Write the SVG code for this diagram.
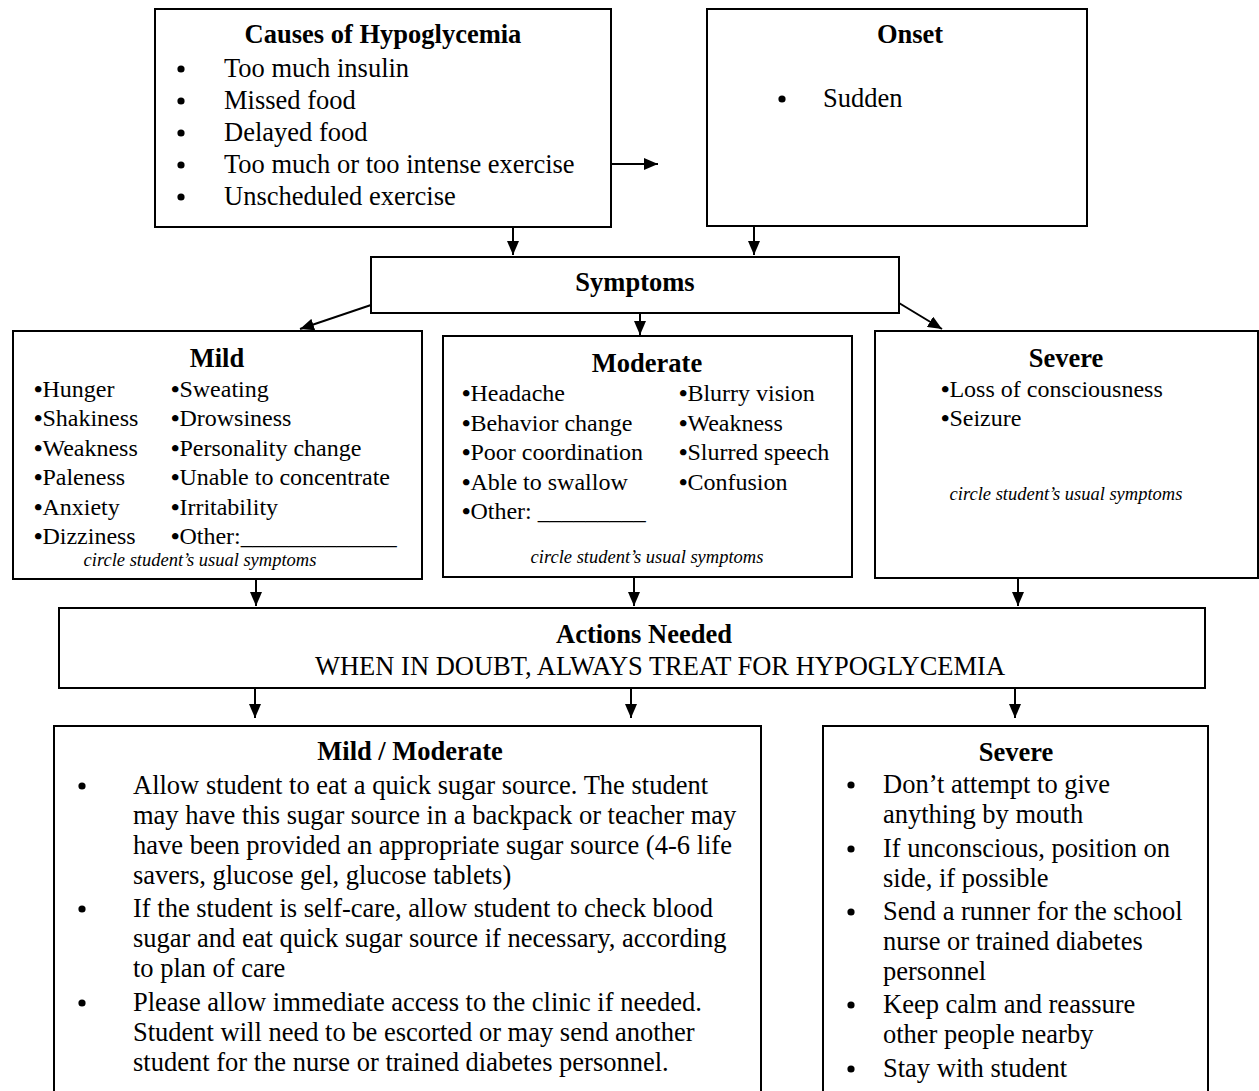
<svg xmlns="http://www.w3.org/2000/svg" width="1259" height="1091" viewBox="0 0 1259 1091">
<style>
.box{fill:#fff;stroke:#000;stroke-width:2}
.t{font-family:"Liberation Serif","Times New Roman",serif;fill:#000}
.big{font-size:26.5px}
.sm{font-size:24px}
.b{font-weight:bold}
.it{font-style:italic;font-size:18.5px}
.mid{text-anchor:middle}
.dot{fill:#000}
.bl{font-weight:bold}
.c{stroke:#000;stroke-width:2;fill:none}
</style>
<defs>
<marker id="ah" markerUnits="userSpaceOnUse" markerWidth="14" markerHeight="12" refX="14" refY="6" orient="auto">
<path d="M0,0 L14,6 L0,12 z" fill="#000"/>
</marker>
</defs>
<rect width="1259" height="1091" fill="#fff"/>

<g id="connectors">
<line class="c" x1="611" y1="164" x2="658" y2="164" marker-end="url(#ah)"/>
<line class="c" x1="513" y1="228" x2="513" y2="255" marker-end="url(#ah)"/>
<line class="c" x1="754" y1="227" x2="754" y2="255" marker-end="url(#ah)"/>
<line class="c" x1="371" y1="305" x2="300" y2="329" marker-end="url(#ah)"/>
<line class="c" x1="640" y1="313" x2="640" y2="335" marker-end="url(#ah)"/>
<line class="c" x1="899" y1="303" x2="942" y2="329" marker-end="url(#ah)"/>
<line class="c" x1="256" y1="580" x2="256" y2="606" marker-end="url(#ah)"/>
<line class="c" x1="634" y1="578" x2="634" y2="606" marker-end="url(#ah)"/>
<line class="c" x1="1018" y1="579" x2="1018" y2="606" marker-end="url(#ah)"/>
<line class="c" x1="255" y1="689" x2="255" y2="718" marker-end="url(#ah)"/>
<line class="c" x1="631" y1="689" x2="631" y2="718" marker-end="url(#ah)"/>
<line class="c" x1="1015" y1="689" x2="1015" y2="718" marker-end="url(#ah)"/>
</g>

<g id="causes">
<rect class="box" x="155" y="9" width="456" height="218"/>
<text class="t big b mid" x="383" y="43">Causes of Hypoglycemia</text>
<g class="dot">
<circle cx="181" cy="69" r="3.6"/><circle cx="181" cy="101" r="3.6"/><circle cx="181" cy="133" r="3.6"/><circle cx="181" cy="165" r="3.6"/><circle cx="181" cy="197" r="3.6"/>
</g>
<g class="t big">
<text x="224" y="77">Too much insulin</text>
<text x="224" y="109">Missed food</text>
<text x="224" y="141">Delayed food</text>
<text x="224" y="173">Too much or too intense exercise</text>
<text x="224" y="205">Unscheduled exercise</text>
</g>
</g>

<g id="onset">
<rect class="box" x="707" y="9" width="380" height="217"/>
<text class="t big b mid" x="910" y="43">Onset</text>
<circle class="dot" cx="782" cy="99" r="3.6"/>
<text class="t big" x="823" y="107">Sudden</text>
</g>

<g id="symptoms">
<rect class="box" x="371" y="257" width="528" height="56"/>
<text class="t big b mid" x="635" y="291">Symptoms</text>
</g>

<g id="mild">
<rect class="box" x="13" y="331" width="409" height="248"/>
<text class="t big b mid" x="217" y="367">Mild</text>
<g class="t sm">
<text x="34" y="397"><tspan class="bl">•</tspan>Hunger</text>
<text x="171" y="397"><tspan class="bl">•</tspan>Sweating</text>
<text x="34" y="426"><tspan class="bl">•</tspan>Shakiness</text>
<text x="171" y="426"><tspan class="bl">•</tspan>Drowsiness</text>
<text x="34" y="456"><tspan class="bl">•</tspan>Weakness</text>
<text x="171" y="456"><tspan class="bl">•</tspan>Personality change</text>
<text x="34" y="485"><tspan class="bl">•</tspan>Paleness</text>
<text x="171" y="485"><tspan class="bl">•</tspan>Unable to concentrate</text>
<text x="34" y="515"><tspan class="bl">•</tspan>Anxiety</text>
<text x="171" y="515"><tspan class="bl">•</tspan>Irritability</text>
<text x="34" y="544"><tspan class="bl">•</tspan>Dizziness</text>
<text x="171" y="544"><tspan class="bl">•</tspan>Other:_____________</text>
</g>
<text class="t it mid" x="200" y="566">circle student’s usual symptoms</text>
</g>

<g id="moderate">
<rect class="box" x="443" y="336" width="409" height="241"/>
<text class="t big b mid" x="647" y="372">Moderate</text>
<g class="t sm">
<text x="462" y="401"><tspan class="bl">•</tspan>Headache</text>
<text x="679" y="401"><tspan class="bl">•</tspan>Blurry vision</text>
<text x="462" y="431"><tspan class="bl">•</tspan>Behavior change</text>
<text x="679" y="431"><tspan class="bl">•</tspan>Weakness</text>
<text x="462" y="460"><tspan class="bl">•</tspan>Poor coordination</text>
<text x="679" y="460"><tspan class="bl">•</tspan>Slurred speech</text>
<text x="462" y="490"><tspan class="bl">•</tspan>Able to swallow</text>
<text x="679" y="490"><tspan class="bl">•</tspan>Confusion</text>
<text x="462" y="519"><tspan class="bl">•</tspan>Other: _________</text>
</g>
<text class="t it mid" x="647" y="563">circle student’s usual symptoms</text>
</g>

<g id="severe">
<rect class="box" x="875" y="331" width="383" height="247"/>
<text class="t big b mid" x="1066" y="367">Severe</text>
<g class="t sm">
<text x="941" y="397"><tspan class="bl">•</tspan>Loss of consciousness</text>
<text x="941" y="426"><tspan class="bl">•</tspan>Seizure</text>
</g>
<text class="t it mid" x="1066" y="500">circle student’s usual symptoms</text>
</g>

<g id="actions">
<rect class="box" x="59" y="608" width="1146" height="80"/>
<text class="t big b mid" x="644" y="643">Actions Needed</text>
<text class="t big mid" x="660" y="675">WHEN IN DOUBT, ALWAYS TREAT FOR HYPOGLYCEMIA</text>
</g>

<g id="treat-mild-moderate">
<rect class="box" x="54" y="726" width="707" height="380"/>
<text class="t big b mid" x="410" y="760">Mild / Moderate</text>
<g class="dot">
<circle cx="82" cy="786" r="3.6"/><circle cx="82" cy="909" r="3.6"/><circle cx="82" cy="1003" r="3.6"/>
</g>
<g class="t big">
<text x="133" y="794">Allow student to eat a quick sugar source. The student</text>
<text x="133" y="824">may have this sugar source in a backpack or teacher may</text>
<text x="133" y="854">have been provided an appropriate sugar source (4-6 life</text>
<text x="133" y="884">savers, glucose gel, glucose tablets)</text>
<text x="133" y="917">If the student is self-care, allow student to check blood</text>
<text x="133" y="947">sugar and eat quick sugar source if necessary, according</text>
<text x="133" y="977">to plan of care</text>
<text x="133" y="1011">Please allow immediate access to the clinic if needed.</text>
<text x="133" y="1041">Student will need to be escorted or may send another</text>
<text x="133" y="1071">student for the nurse or trained diabetes personnel.</text>
</g>
</g>

<g id="treat-severe">
<rect class="box" x="823" y="726" width="385" height="380"/>
<text class="t big b mid" x="1016" y="761">Severe</text>
<g class="dot">
<circle cx="851" cy="785" r="3.6"/><circle cx="851" cy="849" r="3.6"/><circle cx="851" cy="912" r="3.6"/><circle cx="851" cy="1005" r="3.6"/><circle cx="851" cy="1069" r="3.6"/>
</g>
<g class="t big">
<text x="883" y="793">Don’t attempt to give</text>
<text x="883" y="823">anything by mouth</text>
<text x="883" y="857">If unconscious, position on</text>
<text x="883" y="887">side, if possible</text>
<text x="883" y="920">Send a runner for the school</text>
<text x="883" y="950">nurse or trained diabetes</text>
<text x="883" y="980">personnel</text>
<text x="883" y="1013">Keep calm and reassure</text>
<text x="883" y="1043">other people nearby</text>
<text x="883" y="1077">Stay with student</text>
</g>
</g>
</svg>
